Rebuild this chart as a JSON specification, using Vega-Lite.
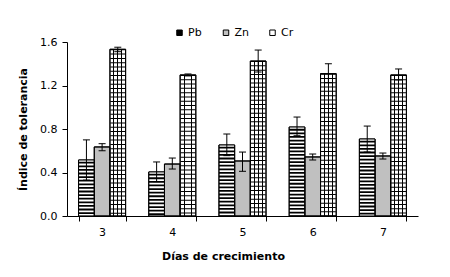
{
  "$schema": "https://vega.github.io/schema/vega-lite/v6.json",
  "width": 351,
  "height": 174,
  "autosize": "none",
  "padding": {"left": 67, "top": 42, "right": 32, "bottom": 61},
  "background": "white",
  "config": {
    "view": {"stroke": null},
    "font": "DejaVu Sans",
    "axis": {"labelFont": "DejaVu Sans", "titleFont": "DejaVu Sans", "labelColor": "black", "titleColor": "black", "domainColor": "black", "tickColor": "black", "grid": false, "labelFontSize": 11, "titleFontSize": 11, "titleFontWeight": "bold"},
    "legend": {"labelFont": "DejaVu Sans", "labelFontSize": 11, "labelColor": "black"}
  },
  "data": {
    "values": [
      {"dia": "3", "metal": "Pb", "value": 0.515, "lo": 0.33, "hi": 0.70},
      {"dia": "3", "metal": "Zn", "value": 0.635, "lo": 0.60, "hi": 0.665},
      {"dia": "3", "metal": "Cr", "value": 1.533, "lo": 1.511, "hi": 1.552},
      {"dia": "4", "metal": "Pb", "value": 0.405, "lo": 0.316, "hi": 0.497},
      {"dia": "4", "metal": "Zn", "value": 0.478, "lo": 0.432, "hi": 0.533},
      {"dia": "4", "metal": "Cr", "value": 1.297, "lo": 1.288, "hi": 1.306},
      {"dia": "5", "metal": "Pb", "value": 0.653, "lo": 0.555, "hi": 0.754},
      {"dia": "5", "metal": "Zn", "value": 0.506, "lo": 0.411, "hi": 0.588},
      {"dia": "5", "metal": "Cr", "value": 1.425, "lo": 1.324, "hi": 1.526},
      {"dia": "6", "metal": "Pb", "value": 0.818, "lo": 0.738, "hi": 0.910},
      {"dia": "6", "metal": "Zn", "value": 0.543, "lo": 0.515, "hi": 0.570},
      {"dia": "6", "metal": "Cr", "value": 1.309, "lo": 1.226, "hi": 1.400},
      {"dia": "7", "metal": "Pb", "value": 0.708, "lo": 0.588, "hi": 0.827},
      {"dia": "7", "metal": "Zn", "value": 0.552, "lo": 0.524, "hi": 0.579},
      {"dia": "7", "metal": "Cr", "value": 1.297, "lo": 1.251, "hi": 1.352}
    ]
  },
  "encoding": {
    "x": {
      "field": "dia", "type": "nominal", "sort": ["3", "4", "5", "6", "7"],
      "scale": {"paddingInner": 0.33, "paddingOuter": 0.165},
      "axis": {"title": "Días de crecimiento", "labelAngle": 0, "tickBand": "extent", "tickSize": 5, "labelPadding": 5, "titlePadding": 13, "titleX": 156}
    },
    "xOffset": {"field": "metal", "type": "nominal", "scale": {"domain": ["Pb", "Zn", "Cr"], "paddingInner": 0, "paddingOuter": 0}}
  },
  "layer": [
    {
      "mark": {"type": "bar", "stroke": "black", "strokeWidth": 1},
      "encoding": {
        "y": {"field": "value", "type": "quantitative", "scale": {"domain": [0, 1.6], "nice": false}, "axis": {"title": "Índice de tolerancia", "values": [0, 0.4, 0.8, 1.2, 1.6], "format": ".1f", "tickSize": 5, "labelPadding": 5, "titlePadding": 11}},
        "fill": {"field": "metal", "type": "nominal", "scale": {"domain": ["Pb", "Zn", "Cr"], "range": ["#000000", "#C0C0C0", "#FFFFFF"]},
          "legend": {"title": null, "orient": "none", "direction": "horizontal", "legendX": 107, "legendY": -15, "symbolType": "square", "symbolSize": 30, "symbolStrokeColor": "black", "symbolStrokeWidth": 1, "gridAlign": "all", "columnPadding": 17.5, "labelOffset": 3}}
      }
    },
    {
      "transform": [{"filter": "datum.metal === 'Pb'"}],
      "mark": {"type": "rule", "stroke": "white", "strokeWidth": 15, "strokeDash": [1.8, 1.8], "strokeCap": "butt"},
      "encoding": {"y": {"field": "value", "type": "quantitative"}, "y2": {"datum": 0}}
    },
    {
      "transform": [{"filter": "datum.metal === 'Cr'"}],
      "mark": {"type": "bar", "stroke": null, "fill": {"gradient": "linear", "x1": 0, "y1": 0, "x2": 1, "y2": 0, "stops": [
        {"offset": 0, "color": "rgba(255,255,255,0)"},
        {"offset": 0.22, "color": "rgba(255,255,255,0)"},
        {"offset": 0.22, "color": "black"},
        {"offset": 0.28, "color": "black"},
        {"offset": 0.28, "color": "rgba(255,255,255,0)"},
        {"offset": 0.47, "color": "rgba(255,255,255,0)"},
        {"offset": 0.47, "color": "black"},
        {"offset": 0.53, "color": "black"},
        {"offset": 0.53, "color": "rgba(255,255,255,0)"},
        {"offset": 0.72, "color": "rgba(255,255,255,0)"},
        {"offset": 0.72, "color": "black"},
        {"offset": 0.78, "color": "black"},
        {"offset": 0.78, "color": "rgba(255,255,255,0)"},
        {"offset": 1, "color": "rgba(255,255,255,0)"}
      ]}},
      "encoding": {"y": {"field": "value", "type": "quantitative"}}
    },
    {
      "transform": [{"filter": "datum.metal === 'Cr'"}],
      "mark": {"type": "rule", "stroke": "black", "strokeWidth": 15, "strokeDash": [1, 3.3], "strokeCap": "butt"},
      "encoding": {"y": {"field": "value", "type": "quantitative"}, "y2": {"datum": 0}}
    },
    {
      "mark": {"type": "bar", "fill": null, "stroke": "black", "strokeWidth": 1},
      "encoding": {"y": {"field": "value", "type": "quantitative"}}
    },
    {
      "mark": {"type": "rule", "stroke": "black", "strokeWidth": 1},
      "encoding": {"y": {"field": "lo", "type": "quantitative"}, "y2": {"field": "hi"}}
    },
    {
      "mark": {"type": "tick", "color": "black", "thickness": 1, "size": 7, "opacity": 1},
      "encoding": {"y": {"field": "lo", "type": "quantitative"}}
    },
    {
      "mark": {"type": "tick", "color": "black", "thickness": 1, "size": 7, "opacity": 1},
      "encoding": {"y": {"field": "hi", "type": "quantitative"}}
    }
  ]
}
